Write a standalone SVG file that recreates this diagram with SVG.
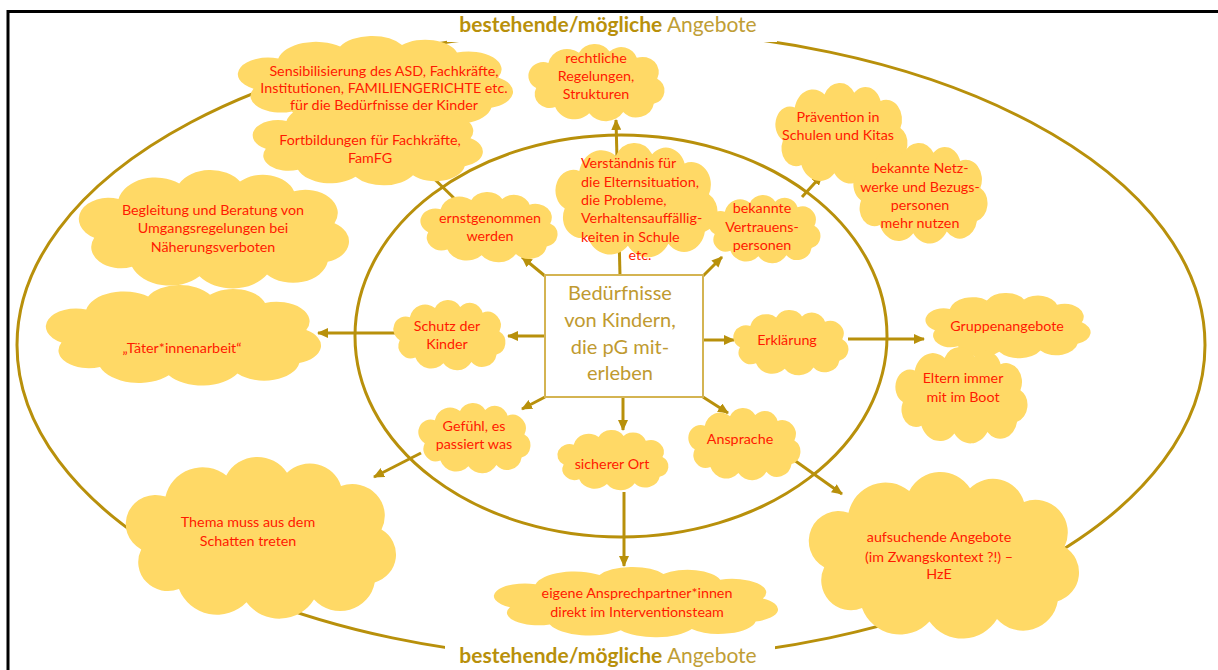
<svg xmlns="http://www.w3.org/2000/svg" xmlns:xlink="http://www.w3.org/1999/xlink" width="1218" height="670" viewBox="0 0 1218 670">
<style>
.ring{fill:none;stroke:#B8900B;stroke-width:3}
.con{fill:none;stroke:#B8900B;stroke-width:3;marker-end:url(#ah)}
.t{font-family:Lato,'Liberation Sans',sans-serif;font-size:14.3px;fill:#FF1A00;text-anchor:middle}
.tl{font-family:Lato,'Liberation Sans',sans-serif;font-size:14.3px;fill:#FF1A00}
.ttl{font-family:Lato,'Liberation Sans',sans-serif;font-size:21px;fill:#B8900B;text-anchor:middle}
.ctr{font-family:Lato,'Liberation Sans',sans-serif;font-size:20px;fill:#C09A30;text-anchor:middle}
</style>
<defs>
<path id="cloud" fill="#FFD966" d="M12,70 A22,22 0 0 1 30,30 A28,28 0 0 1 75,14 A26,26 0 0 1 120,12 A24,24 0 0 1 160,22 A24,24 0 0 1 190,55 A22,22 0 0 1 185,95 A26,26 0 0 1 140,108 A30,30 0 0 1 90,110 A30,30 0 0 1 40,100 A22,22 0 0 1 12,70 Z"/>
<marker id="ah" markerUnits="userSpaceOnUse" markerWidth="11" markerHeight="10" refX="10" refY="5" orient="auto" viewBox="0 0 11 10">
<path d="M0,0 L11,5 L0,10 Z" fill="#B8900B"/>
</marker>
</defs>
<rect x="0" y="0" width="1218" height="670" fill="#FFFFFF"/>
<g id="frame" stroke="#000" stroke-width="3" fill="none">
<line x1="8" y1="11.5" x2="1218" y2="11.5"/>
<line x1="8" y1="10" x2="8" y2="670"/>
</g>
<g id="rings">
<ellipse class="ring" cx="611" cy="345" rx="594" ry="315"/>
<ellipse class="ring" cx="621" cy="336" rx="266" ry="201"/>
</g>
<g id="title-top">
<rect x="447" y="14" width="330" height="28" fill="#FFFFFF"/>
<text class="ttl" x="608" y="32"><tspan font-weight="bold">bestehende/mögliche</tspan> <tspan fill="#BF9E36">Angebote</tspan></text>
</g>
<g id="title-bottom">
<rect x="445" y="642" width="330" height="28" fill="#FFFFFF"/>
<text class="ttl" x="608" y="663"><tspan font-weight="bold">bestehende/mögliche</tspan> <tspan fill="#BF9E36">Angebote</tspan></text>
</g>
<g id="connectors">
<path class="con" d="M620,275 L616,120"/>
<path class="con" d="M545,276 L522,257"/>
<path class="con" d="M703,276 L722,257"/>
<path class="con" d="M545,336 L508,336"/>
<path class="con" d="M703,340 L734,340"/>
<path class="con" d="M545,397 L522,409"/>
<path class="con" d="M623,397 L623,430"/>
<path class="con" d="M703,397 L728,413"/>
<path class="con" d="M460,204 L418,163"/>
<path class="con" d="M802,197 L822,175"/>
<path class="con" d="M395,333 L318,333"/>
<path class="con" d="M848,339 L924,339"/>
<path class="con" d="M421,453 L374,477"/>
<path class="con" d="M624,492 L624,566"/>
<path class="con" d="M787,455 L842,494"/>
</g>
<g id="center">
<rect x="545" y="275" width="158" height="122" fill="#FFFFFF" stroke="#D4B452" stroke-width="2"/>
<text class="ctr" x="620" y="300">Bedürfnisse</text>
<text class="ctr" x="620" y="327">von Kindern,</text>
<text class="ctr" x="620" y="354">die pG mit-</text>
<text class="ctr" x="620" y="380">erleben</text>
</g>
<g id="n-sensibilisierung">
<use xlink:href="#cloud" transform="translate(237,36) scale(1.375,0.754)"/>
<use xlink:href="#cloud" transform="translate(252,100) scale(1.15,0.697)"/>
<text class="t" x="384" y="75.5">Sensibilisierung des ASD, Fachkräfte,</text>
<text class="t" x="384" y="92.5">Institutionen, FAMILIENGERICHTE etc.</text>
<text class="t" x="384" y="110">für die Bedürfnisse der Kinder</text>
<text class="t" x="370" y="145">Fortbildungen für Fachkräfte,</text>
<text class="t" x="370" y="163">FamFG</text>
</g>
<g id="n-rechtliche">
<use xlink:href="#cloud" transform="translate(528,44) scale(0.68,0.63)"/>
<text class="t" x="596" y="63">rechtliche</text>
<text class="t" x="596" y="81">Regelungen,</text>
<text class="t" x="596" y="99">Strukturen</text>
</g>
<g id="n-praevention">
<use xlink:href="#cloud" transform="translate(775,83) scale(0.66,0.82)"/>
<use xlink:href="#cloud" transform="translate(853,143) scale(0.67,0.82)"/>
<text class="t" x="838" y="122">Prävention in</text>
<text class="t" x="838" y="140">Schulen und Kitas</text>
<text class="t" x="920" y="173">bekannte Netz-</text>
<text class="t" x="920" y="191.5">werke und Bezugs-</text>
<text class="t" x="920" y="210">personen</text>
<text class="t" x="920" y="228">mehr nutzen</text>
</g>
<g id="n-begleitung">
<use xlink:href="#cloud" transform="translate(78,170) scale(1.35,0.967)"/>
<use xlink:href="#cloud" transform="translate(45,285) scale(1.375,0.82)"/>
<text class="t" x="213" y="215">Begleitung und Beratung von</text>
<text class="t" x="213" y="233">Umgangsregelungen bei</text>
<text class="t" x="213" y="251.5">Näherungsverboten</text>
<text class="t" x="182" y="353">„Täter*innenarbeit“</text>
</g>
<g id="n-ernstgenommen">
<use xlink:href="#cloud" transform="translate(420,192) scale(0.685,0.574)"/>
<text class="t" x="490" y="223">ernstgenommen</text>
<text class="t" x="490" y="241">werden</text>
</g>
<g id="n-verstaendnis">
<use xlink:href="#cloud" transform="translate(555,143) scale(0.81,0.934)"/>
<text class="tl" x="581" y="168">Verständnis für</text>
<text class="tl" x="581" y="186.5">die Elternsituation,</text>
<text class="tl" x="581" y="205">die Probleme,</text>
<text class="tl" x="581" y="223">Verhaltensauffällig-</text>
<text class="tl" x="581" y="242">keiten in Schule</text>
<text class="t" x="640" y="260">etc.</text>
</g>
<g id="n-vertrauenspersonen">
<use xlink:href="#cloud" transform="translate(708,195) scale(0.56,0.557)"/>
<text class="t" x="762" y="213">bekannte</text>
<text class="t" x="762" y="231.5">Vertrauens-</text>
<text class="t" x="762" y="250">personen</text>
</g>
<g id="n-schutz">
<use xlink:href="#cloud" transform="translate(393,300) scale(0.56,0.574)"/>
<text class="t" x="447" y="331">Schutz der</text>
<text class="t" x="447" y="349">Kinder</text>
</g>
<g id="n-erklaerung">
<use xlink:href="#cloud" transform="translate(733,310) scale(0.575,0.533)"/>
<text class="t" x="787" y="345">Erklärung</text>
</g>
<g id="n-gruppenangebote">
<use xlink:href="#cloud" transform="translate(925,293) scale(0.825,0.533)"/>
<use xlink:href="#cloud" transform="translate(895,347) scale(0.66,0.787)"/>
<text class="t" x="1007" y="331">Gruppenangebote</text>
<text class="t" x="963" y="383">Eltern immer</text>
<text class="t" x="963" y="401.5">mit im Boot</text>
</g>
<g id="n-gefuehl">
<use xlink:href="#cloud" transform="translate(418,403) scale(0.56,0.574)"/>
<text class="t" x="474" y="431">Gefühl, es</text>
<text class="t" x="474" y="449">passiert was</text>
</g>
<g id="n-ort">
<use xlink:href="#cloud" transform="translate(557,430) scale(0.555,0.492)"/>
<text class="t" x="612" y="469">sicherer Ort</text>
</g>
<g id="n-ansprache">
<use xlink:href="#cloud" transform="translate(688,408) scale(0.56,0.59)"/>
<text class="t" x="740" y="444">Ansprache</text>
</g>
<g id="n-thema">
<use xlink:href="#cloud" transform="translate(125,457) scale(1.35,1.32)"/>
<text class="t" x="248" y="527">Thema muss aus dem</text>
<text class="t" x="248" y="545.5">Schatten treten</text>
</g>
<g id="n-ansprechpartner">
<use xlink:href="#cloud" transform="translate(493,567) scale(1.42,0.574)"/>
<text class="t" x="637" y="598">eigene Ansprechpartner*innen</text>
<text class="t" x="637" y="617">direkt im Interventionsteam</text>
</g>
<g id="n-aufsuchende">
<use xlink:href="#cloud" transform="translate(808,472) scale(1.35,1.36)"/>
<text class="t" x="939" y="542">aufsuchende Angebote</text>
<text class="t" x="939" y="561.5">(im Zwangskontext ?!) –</text>
<text class="t" x="939" y="579">HzE</text>
</g>
</svg>
